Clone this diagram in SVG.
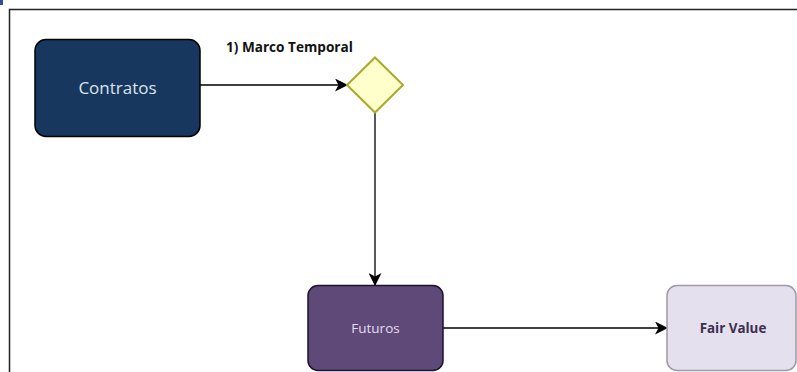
<svg xmlns="http://www.w3.org/2000/svg" width="797" height="372" viewBox="0 0 797 372">
<defs>
<marker id="arr" markerWidth="13" markerHeight="13" refX="12" refY="6.5" orient="auto" markerUnits="userSpaceOnUse">
<path d="M0,0 L13,6.5 L0,13 L3.5,6.5 Z" fill="#000"/>
</marker>
<style>
.lbl{font-family:"Open Sans","Noto Sans",sans-serif;text-anchor:middle;dominant-baseline:central}
.conn{stroke:#000;stroke-width:1.3;fill:none;marker-end:url(#arr)}
</style>
</defs>
<rect width="797" height="372" fill="#fff"/>
<rect x="0" y="0" width="3" height="5" fill="#2f4f8f"/>
<path d="M9.5,372 V9.5 H797" fill="none" stroke="#222" stroke-width="1.5"/>
<g id="connectors">
<path class="conn" d="M200,85 H347"/>
<path class="conn" d="M375,113 V285"/>
<path class="conn" d="M443,328 H667"/>
<text x="226" y="46" font-family="'Open Sans','Noto Sans',sans-serif" font-size="13.6" font-weight="bold" fill="#111" dominant-baseline="central">1) Marco Temporal</text>
</g>
<g id="contratos">
<rect x="35" y="39.5" width="165" height="97" rx="11" fill="#17375e" stroke="#000" stroke-width="1.5"/>
<text class="lbl" x="117.5" y="87" font-size="17" fill="#dde4ee">Contratos</text>
</g>
<g id="decision">
<path d="M375,57.5 L403,85 L375,112.5 L347,85 Z" fill="#ffffcc" stroke="#a9a92a" stroke-width="2"/>
</g>
<g id="futuros">
<rect x="308" y="285.5" width="135" height="85" rx="10" fill="#5e4979" stroke="#1e1230" stroke-width="1.5"/>
<text class="lbl" x="375.5" y="328" font-size="13.5" fill="#e6deef">Futuros</text>
</g>
<g id="fairvalue">
<rect x="667" y="285.5" width="129" height="85" rx="10" fill="#e5e0ee" stroke="#9e98a8" stroke-width="1.5"/>
<text class="lbl" x="733" y="328" font-size="13.4" font-weight="bold" fill="#3c2e4e">Fair Value</text>
</g>
</svg>
